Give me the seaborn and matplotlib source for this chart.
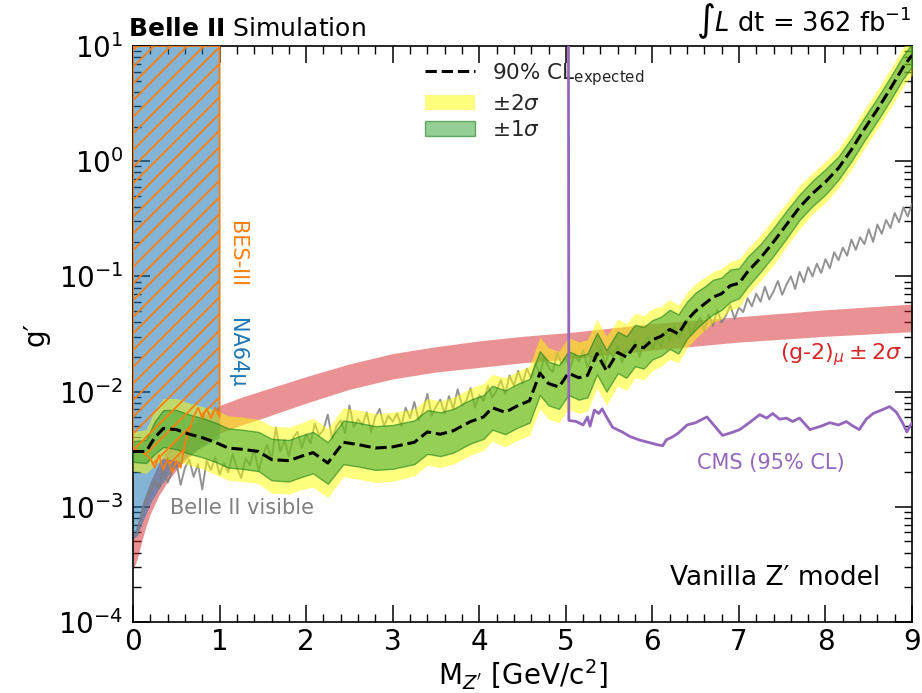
import numpy as np
import pandas as pd
import matplotlib
matplotlib.use("Agg")
import matplotlib.pyplot as plt
import seaborn as sns
from matplotlib.lines import Line2D
from matplotlib.patches import Patch
from matplotlib.ticker import MultipleLocator, LogLocator

# ---------------- data (log10 of g') ----------------
exp_mass = [0.0, 0.15, 0.25, 0.35, 0.5, 0.65, 0.8, 0.95, 1.1, 1.25, 1.45, 1.6, 1.8, 1.95,
            2.08, 2.25, 2.43, 2.6, 2.8, 3.0, 3.25, 3.4, 3.55, 3.7, 3.9, 4.05, 4.15, 4.3, 4.45, 4.58,
            4.7, 4.8, 4.92, 5.03, 5.15, 5.25, 5.36, 5.47, 5.6, 5.7, 5.8, 5.9, 6.0, 6.1, 6.2, 6.3,
            6.4, 6.5, 6.6, 6.7, 6.8, 6.9, 7.0, 7.1, 7.25, 7.4, 7.55, 7.7, 7.85, 8.0, 8.15, 8.3,
            8.45, 8.6, 8.75, 8.9, 9.0]
exp_log = [-2.52, -2.52, -2.40, -2.32, -2.33, -2.37, -2.40, -2.44, -2.49, -2.50, -2.52, -2.59, -2.60, -2.56,
           -2.53, -2.62, -2.44, -2.46, -2.49, -2.48, -2.44, -2.35, -2.37, -2.34, -2.26, -2.22, -2.14, -2.18, -2.12, -2.08,
           -1.84, -1.93, -1.96, -1.84, -1.88, -1.86, -1.67, -1.82, -1.66, -1.70, -1.60, -1.62, -1.55, -1.52, -1.46, -1.50,
           -1.38, -1.30, -1.24, -1.18, -1.15, -1.08, -1.06, -0.96, -0.84, -0.70, -0.55, -0.40, -0.28, -0.18, -0.06, 0.10,
           0.28, 0.45, 0.63, 0.82, 0.92]
one_sigma_halfwidth = [0.09, 0.10, 0.14, 0.16, 0.17, 0.17, 0.17, 0.17, 0.17, 0.17, 0.17, 0.18, 0.18, 0.18,
                       0.18, 0.18, 0.19, 0.19, 0.19, 0.19, 0.19, 0.19, 0.19, 0.19, 0.19, 0.19, 0.19, 0.19, 0.19, 0.19,
                       0.19, 0.19, 0.19, 0.19, 0.19, 0.19, 0.18, 0.18, 0.18, 0.18, 0.18, 0.18, 0.17, 0.17, 0.17, 0.17,
                       0.16, 0.16, 0.15, 0.15, 0.14, 0.14, 0.13, 0.13, 0.12, 0.12, 0.12, 0.11, 0.11, 0.11, 0.10, 0.10,
                       0.10, 0.10, 0.10, 0.10, 0.10]
two_sigma_halfwidth = [0.17, 0.19, 0.24, 0.26, 0.27, 0.27, 0.27, 0.28, 0.28, 0.28, 0.28, 0.29, 0.29, 0.29,
                       0.30, 0.30, 0.30, 0.30, 0.30, 0.30, 0.29, 0.29, 0.29, 0.29, 0.29, 0.29, 0.29, 0.30, 0.30, 0.30,
                       0.31, 0.31, 0.31, 0.31, 0.31, 0.31, 0.30, 0.30, 0.29, 0.29, 0.28, 0.28, 0.27, 0.26, 0.26, 0.25,
                       0.24, 0.24, 0.23, 0.22, 0.22, 0.21, 0.21, 0.20, 0.20, 0.20, 0.19, 0.19, 0.18, 0.18, 0.17, 0.17,
                       0.17, 0.17, 0.17, 0.17, 0.17]

visible_mass = [0.05, 0.10, 0.15, 0.20, 0.25, 0.30, 0.35, 0.40, 0.45, 0.50, 0.55, 0.60, 0.65, 0.70, 0.75, 0.80, 0.85, 0.90, 0.95, 1.00,
                1.05, 1.10, 1.15, 1.20, 1.25, 1.30, 1.35, 1.40, 1.45, 1.50, 1.55, 1.60, 1.65, 1.70, 1.75, 1.80, 1.85, 1.90, 1.95, 2.00,
                2.05, 2.10, 2.15, 2.20, 2.25, 2.30, 2.35, 2.40, 2.45, 2.50, 2.55, 2.60, 2.65, 2.70, 2.75, 2.80, 2.85, 2.90, 2.95, 3.00,
                3.05, 3.10, 3.15, 3.20, 3.25, 3.30, 3.35, 3.40, 3.45, 3.50, 3.55, 3.60, 3.65, 3.70, 3.75, 3.80, 3.85, 3.90, 3.95, 4.00,
                4.05, 4.10, 4.15, 4.20, 4.25, 4.30, 4.35, 4.40, 4.45, 4.50, 4.55, 4.60, 4.65, 4.70, 4.75, 4.80, 4.85, 4.90, 4.95, 5.00,
                5.05, 5.10, 5.15, 5.20, 5.25, 5.30, 5.35, 5.40, 5.45, 5.50, 5.55, 5.60, 5.65, 5.70, 5.75, 5.80, 5.85, 5.90, 5.95, 6.00,
                6.05, 6.10, 6.15, 6.20, 6.25, 6.30, 6.35, 6.40, 6.45, 6.50, 6.55, 6.60, 6.65, 6.70, 6.75, 6.80, 6.85, 6.90, 6.95, 7.00,
                7.05, 7.10, 7.15, 7.20, 7.25, 7.30, 7.35, 7.40, 7.45, 7.50, 7.55, 7.60, 7.65, 7.70, 7.75, 7.80, 7.85, 7.90, 7.95, 8.00,
                8.05, 8.10, 8.15, 8.20, 8.25, 8.30, 8.35, 8.40, 8.45, 8.50, 8.55, 8.60, 8.65, 8.70, 8.75, 8.80, 8.85, 8.90, 8.95, 9.00]
visible_log = [-3.22, -3.05, -2.92, -2.86, -2.78, -2.84, -2.66, -2.79, -2.70, -2.62, -2.81, -2.66, -2.59, -2.74, -2.63, -2.85, -2.60, -2.68, -2.57, -2.72,
               -2.62, -2.70, -2.54, -2.66, -2.75, -2.58, -2.64, -2.50, -2.69, -2.55, -2.46, -2.60, -2.31, -2.52, -2.42, -2.56, -2.40, -2.35, -2.49, -2.37,
               -2.45, -2.28, -2.38, -2.33, -2.20, -2.41, -2.30, -2.25, -2.36, -2.12, -2.31, -2.24, -2.29, -2.18, -2.35, -2.22, -2.15, -2.30, -2.21, -2.26,
               -2.19, -2.30, -2.14, -2.23, -2.09, -2.25, -2.17, -2.02, -2.21, -2.13, -2.07, -2.19, -2.04, -2.15, -1.98, -2.12, -2.08, -1.97, -2.14, -2.03,
               -2.08, -1.95, -2.05, -1.99, -1.90, -2.02, -1.86, -1.95, -1.82, -1.93, -1.80, -1.88, -1.75, -1.86, -1.70, -1.79, -1.83, -1.66, -1.76, -1.71,
               -1.80, -1.67, -1.74, -1.64, -1.79, -1.69, -1.73, -1.61, -1.77, -1.65, -1.70, -1.60, -1.75, -1.62, -1.67, -1.55, -1.70, -1.58, -1.52, -1.63,
               -1.55, -1.61, -1.47, -1.56, -1.43, -1.53, -1.48, -1.38, -1.51, -1.42, -1.36, -1.47, -1.33, -1.43, -1.29, -1.40, -1.34, -1.25, -1.37, -1.27,
               -1.31, -1.19, -1.26, -1.15, -1.22, -1.09, -1.20, -1.13, -1.04, -1.16, -1.07, -1.00, -1.11, -0.96, -1.05, -0.92, -1.00, -0.89, -0.97, -0.85,
               -0.93, -0.79, -0.86, -0.75, -0.82, -0.68, -0.77, -0.66, -0.72, -0.59, -0.70, -0.55, -0.63, -0.51, -0.58, -0.45, -0.53, -0.40, -0.48, -0.37]

cms_mass = [5.03, 5.035, 5.12, 5.2, 5.25, 5.28, 5.33, 5.38, 5.42, 5.47, 5.54, 5.65, 5.74, 5.85, 5.95, 6.05, 6.12, 6.16,
            6.24, 6.3, 6.4, 6.5, 6.63, 6.72, 6.81, 6.9, 7.01, 7.12, 7.24, 7.32, 7.39, 7.47, 7.55, 7.62, 7.70, 7.82,
            7.95, 8.05, 8.15, 8.24, 8.32, 8.39, 8.47, 8.55, 8.65, 8.74, 8.82, 8.89, 8.94, 9.0]
cms_log = [1.5, -2.25, -2.26, -2.29, -2.22, -2.30, -2.16, -2.19, -2.15, -2.22, -2.31, -2.35, -2.39, -2.42, -2.44, -2.46, -2.47, -2.42,
           -2.39, -2.36, -2.29, -2.27, -2.22, -2.30, -2.38, -2.36, -2.33, -2.27, -2.20, -2.23, -2.19, -2.24, -2.23, -2.26, -2.23, -2.33,
           -2.30, -2.27, -2.29, -2.26, -2.30, -2.33, -2.24, -2.19, -2.16, -2.13, -2.18, -2.27, -2.35, -2.27]

g2_mass = [0.0, 0.05, 0.1, 0.15, 0.2, 0.3, 0.4, 0.5, 0.6, 0.75, 1.0, 1.25, 1.5, 2.0, 2.5, 3.0, 3.5, 4.0, 4.5, 5.0, 6.0, 7.0, 8.0, 9.0]
g2_low_log = [-3.55, -3.45, -3.30, -3.17, -3.06, -2.90, -2.78, -2.68, -2.60, -2.50, -2.36, -2.29, -2.23, -2.10, -1.98, -1.89,
              -1.83, -1.79, -1.75, -1.72, -1.64, -1.57, -1.52, -1.48]
g2_high_log = [-3.25, -3.15, -3.00, -2.88, -2.78, -2.62, -2.50, -2.41, -2.34, -2.24, -2.12, -2.05, -1.99, -1.87, -1.76, -1.67,
               -1.61, -1.56, -1.52, -1.49, -1.41, -1.35, -1.29, -1.24]

na64_mass = [0.0, 0.05, 0.1, 0.15, 0.2, 0.3, 0.4, 0.5, 0.6, 0.75, 0.9, 1.0]
na64_low_log = [-3.28, -3.25, -3.15, -3.06, -2.97, -2.84, -2.73, -2.65, -2.58, -2.50, -2.44, -2.40]

bes_mass = [0.0, 0.1, 0.2, 0.25, 0.3, 0.35, 0.4, 0.45, 0.5, 0.55, 0.6, 0.7, 0.75, 0.8, 0.85, 0.9, 0.95, 1.0]
bes_low_log = [-2.50, -2.52, -2.58, -2.66, -2.55, -2.68, -2.58, -2.70, -2.60, -2.66, -2.45, -2.22, -2.14, -2.23, -2.15, -2.23,
               -2.14, -2.22]

# ---------------- style ----------------
sns.set_theme(style="ticks")
plt.rcParams["font.family"] = ["DejaVu Sans"]
plt.rcParams["mathtext.fontset"] = "dejavusans"
plt.rcParams["hatch.linewidth"] = 1.3
plt.rcParams["hatch.color"] = "#ff7f0e"

fig = plt.figure(figsize=(9.22, 6.93), dpi=100)
ax = fig.add_axes([0.1443, 0.1025, 0.9892 - 0.1443, 0.9336 - 0.1025])

P = lambda v: np.power(10.0, np.asarray(v, dtype=float))

# g-2 band
ax.fill_between(g2_mass, P(g2_low_log), P(g2_high_log), color="#d62728", alpha=0.5, lw=0, zorder=1)
# NA64mu
ax.fill_between(na64_mass, P(na64_low_log), 10.0, color="#1f77b4", alpha=0.55, lw=0, zorder=2)

# Belle II visible
df_vis = pd.DataFrame({"m": visible_mass, "g": P(visible_log)})
sns.lineplot(data=df_vis, x="m", y="g", ax=ax, color="grey", alpha=0.85, lw=1.4,
             estimator=None, sort=False, zorder=3)

# bands
exp_g = P(exp_log)
s1 = np.asarray(one_sigma_halfwidth)
s2 = np.asarray(two_sigma_halfwidth)
ax.fill_between(exp_mass, P(np.asarray(exp_log) - s2), P(np.asarray(exp_log) + s2),
                color="#ffff00", alpha=0.5, lw=0, zorder=4)
ax.fill_between(exp_mass, P(np.asarray(exp_log) - s1), P(np.asarray(exp_log) + s1),
                facecolor=(0.173, 0.627, 0.173, 0.5), edgecolor=(0.1, 0.5, 0.1, 0.6), lw=1, zorder=5)

# BES-III hatched
ax.fill_between(bes_mass, P(bes_low_log), 10.0, facecolor="none", edgecolor="#ff7f0e",
                hatch="//", lw=1.3, zorder=6)

# expected
df_exp = pd.DataFrame({"m": exp_mass, "g": exp_g})
sns.lineplot(data=df_exp, x="m", y="g", ax=ax, color="black", lw=2.2, linestyle="--",
             estimator=None, sort=False, zorder=7)

# CMS
df_cms = pd.DataFrame({"m": cms_mass, "g": P(cms_log)})
sns.lineplot(data=df_cms, x="m", y="g", ax=ax, color="#9467bd", lw=2.0,
             estimator=None, sort=False, zorder=8)

# ---------------- axes ----------------
ax.set_yscale("log")
ax.set_xlim(0, 9)
ax.set_ylim(1e-4, 1e1)
ax.xaxis.set_major_locator(MultipleLocator(1))
ax.xaxis.set_minor_locator(MultipleLocator(0.2))
ax.yaxis.set_major_locator(LogLocator(base=10, numticks=10))
ax.yaxis.set_minor_locator(LogLocator(base=10, subs=np.arange(2, 10), numticks=20))
ax.tick_params(which="both", direction="in", top=True, right=True, colors="black", labelsize=20)
ax.tick_params(which="major", length=12, width=1.1)
ax.tick_params(axis="x", which="major", pad=4)
ax.tick_params(axis="y", which="major", pad=7)
ax.tick_params(which="minor", length=6, width=1.0)
for sp in ax.spines.values():
    sp.set_color("black")
    sp.set_linewidth(1.2)
    sp.set_visible(True)

ax.set_xlabel(r"M$_{Z^{\prime}}$ [GeV/c$^{2}$]", fontsize=20, color="black", labelpad=1)
ax.set_ylabel("g′", fontsize=20, color="black", labelpad=6)

# ---------------- text ----------------
ax.text(-0.006, 1.008, r"$\bf{Belle\ II}$ Simulation", transform=ax.transAxes, fontsize=18,
        ha="left", va="bottom", color="black")
ax.text(1.0, 1.008, r"$\int L$ dt = 362 fb$^{-1}$", transform=ax.transAxes, fontsize=18.5,
        ha="right", va="bottom", color="black")
ax.text(0.959, 0.064, "Vanilla Z′ model", transform=ax.transAxes, fontsize=19,
        ha="right", va="baseline", color="black")
ax.text(0.43, 10 ** -3.01, "Belle II visible", fontsize=15, color="grey", ha="left", va="center")
ax.text(6.51, 10 ** -2.62, "CMS (95% CL)", fontsize=15, color="#9467bd", ha="left", va="center")
ax.text(7.47, 10 ** -1.68, r"(g-2)$_{\mu}\pm2\sigma$", fontsize=16, color="#d62728", ha="left", va="center")
ax.text(1.2, 10 ** -0.81, "BES-III", fontsize=15, color="#ff7f0e", rotation=270, ha="center", va="center")
ax.text(1.2, 10 ** -1.66, "NA64μ", fontsize=15, color="#1f77b4", rotation=270, ha="center", va="center")

handles = [Line2D([0], [0], color="black", lw=2.2, linestyle="--"),
           Patch(facecolor="#ffff00", alpha=0.5, edgecolor="none"),
           Patch(facecolor=(0.173, 0.627, 0.173, 0.5), edgecolor=(0.1, 0.5, 0.1, 0.6))]
labels = [r"90% CL$_{\mathrm{expected}}$", r"$\pm2\sigma$", r"$\pm1\sigma$"]
ax.legend(handles, labels, loc="upper left", bbox_to_anchor=(0.35, 1.008), frameon=False,
          fontsize=15.5, handlelength=2.3, handletextpad=0.8, labelspacing=0.28)

fig.savefig("out.png", dpi=100)
